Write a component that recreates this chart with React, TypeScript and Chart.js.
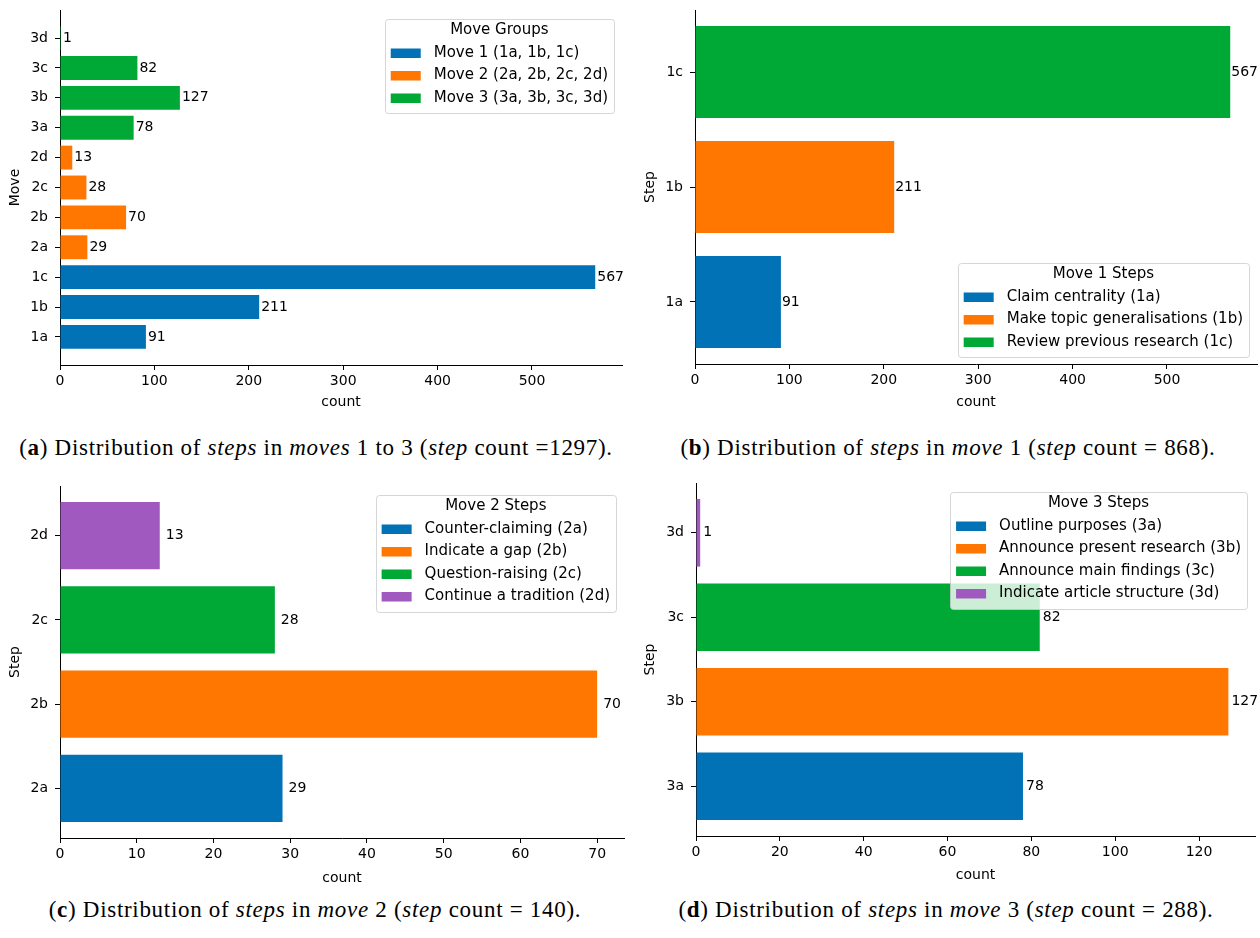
import React, { useEffect, useRef } from 'react';
import { Chart, registerables } from 'chart.js';

Chart.register(...registerables);

// ---------- data ----------
const BLUE = '#0072b5';
const ORANGE = '#ff7600';
const GREEN = '#00a835';
const PURPLE = '#a05abf';

const movesA = ['1a', '1b', '1c', '2a', '2b', '2c', '2d', '3a', '3b', '3c', '3d'];
const countsA = [91, 211, 567, 29, 70, 28, 13, 78, 127, 82, 1];
const groupOfA = [0, 0, 0, 1, 1, 1, 1, 2, 2, 2, 2];
const groupLabelsA = ['Move 1 (1a, 1b, 1c)', 'Move 2 (2a, 2b, 2c, 2d)', 'Move 3 (3a, 3b, 3c, 3d)'];
const groupColorsA = [BLUE, ORANGE, GREEN];
const xTicksA = [0, 100, 200, 300, 400, 500];

const stepsB = ['1a', '1b', '1c'];
const countsB = [91, 211, 567];
const labelsB = ['Claim centrality (1a)', 'Make topic generalisations (1b)', 'Review previous research (1c)'];
const colorsB = [BLUE, ORANGE, GREEN];
const xTicksB = [0, 100, 200, 300, 400, 500];

const stepsC = ['2a', '2b', '2c', '2d'];
const countsC = [29, 70, 28, 13];
const labelsC = ['Counter-claiming (2a)', 'Indicate a gap (2b)', 'Question-raising (2c)', 'Continue a tradition (2d)'];
const colorsC = [BLUE, ORANGE, GREEN, PURPLE];
const xTicksC = [0, 10, 20, 30, 40, 50, 60, 70];

const stepsD = ['3a', '3b', '3c', '3d'];
const countsD = [78, 127, 82, 1];
const labelsD = ['Outline purposes (3a)', 'Announce present research (3b)', 'Announce main findings (3c)', 'Indicate article structure (3d)'];
const colorsD = [BLUE, ORANGE, GREEN, PURPLE];
const xTicksD = [0, 20, 40, 60, 80, 100, 120];

// ---------- style ----------
const FONT = "'DejaVu Sans', sans-serif";
const FS = 14;
const LFS = 15;
const LH = FS * 1.2;

type Panel = {
  left: number; top: number; width: number; height: number;
  area: { l: number; t: number; r: number; b: number };
  cats: string[]; values: number[]; groups: number[];
  groupLabels: string[]; groupColors: string[];
  legendTitle: string; legendLoc: 'upper right' | 'lower right';
  xTicks: number[]; yTitle: string;
  yTitleX: number; xTitleY: number; labelPad: number;
};

const panels: Panel[] = [
  {
    left: 0, top: 0, width: 630, height: 420,
    area: { l: 60, t: 10, r: 622, b: 365 },
    cats: movesA, values: countsA, groups: groupOfA,
    groupLabels: groupLabelsA, groupColors: groupColorsA,
    legendTitle: 'Move Groups', legendLoc: 'upper right',
    xTicks: xTicksA, yTitle: 'Move', yTitleX: 15, xTitleY: 402, labelPad: 2,
  },
  {
    left: 630, top: 0, width: 630, height: 420,
    area: { l: 65, t: 10, r: 627, b: 364 },
    cats: stepsB, values: countsB, groups: [0, 1, 2],
    groupLabels: labelsB, groupColors: colorsB,
    legendTitle: 'Move 1 Steps', legendLoc: 'lower right',
    xTicks: xTicksB, yTitle: 'Step', yTitleX: 20, xTitleY: 402, labelPad: 1,
  },
  {
    left: 0, top: 470, width: 630, height: 420,
    area: { l: 60, t: 16, r: 624, b: 368 },
    cats: stepsC, values: countsC, groups: [0, 1, 2, 3],
    groupLabels: labelsC, groupColors: colorsC,
    legendTitle: 'Move 2 Steps', legendLoc: 'upper right',
    xTicks: xTicksC, yTitle: 'Step', yTitleX: 15, xTitleY: 408, labelPad: 6,
  },
  {
    left: 630, top: 470, width: 630, height: 420,
    area: { l: 66, t: 13, r: 625, b: 366 },
    cats: stepsD, values: countsD, groups: [0, 1, 2, 3],
    groupLabels: labelsD, groupColors: colorsD,
    legendTitle: 'Move 3 Steps', legendLoc: 'upper right',
    xTicks: xTicksD, yTitle: 'Step', yTitleX: 20, xTitleY: 405, labelPad: 3,
  },
];

function roundRect(ctx: CanvasRenderingContext2D, x: number, y: number, w: number, h: number, r: number) {
  ctx.beginPath();
  ctx.moveTo(x + r, y);
  ctx.lineTo(x + w - r, y);
  ctx.arcTo(x + w, y, x + w, y + r, r);
  ctx.lineTo(x + w, y + h - r);
  ctx.arcTo(x + w, y + h, x + w - r, y + h, r);
  ctx.lineTo(x + r, y + h);
  ctx.arcTo(x, y + h, x, y + h - r, r);
  ctx.lineTo(x, y + r);
  ctx.arcTo(x, y, x + r, y, r);
  ctx.closePath();
}

function makePlugins(p: Panel) {
  const valueLabels = {
    id: 'valueLabels',
    afterDatasetsDraw(chart: any) {
      const ctx: CanvasRenderingContext2D = chart.ctx;
      ctx.save();
      ctx.font = `${FS}px ${FONT}`;
      ctx.fillStyle = '#000';
      ctx.textAlign = 'left';
      ctx.textBaseline = 'middle';
      chart.data.datasets.forEach((ds: any, di: number) => {
        const meta = chart.getDatasetMeta(di);
        meta.data.forEach((el: any, i: number) => {
          const v = ds.data[i].x;
          ctx.fillText(String(v), el.x + p.labelPad, el.y);
        });
      });
      ctx.restore();
    },
  };
  const legend = {
    id: 'mplLegend',
    afterDraw(chart: any) {
      const ctx: CanvasRenderingContext2D = chart.ctx;
      const ca = chart.chartArea;
      ctx.save();
      ctx.font = `${LFS}px ${FONT}`;
      const textW = Math.max(...p.groupLabels.map((l) => ctx.measureText(l).width));
      const titleW = ctx.measureText(p.legendTitle).width;
      const w = Math.max(49 + textW + 6, titleW + 12);
      const n = p.groupLabels.length;
      const h = 11.5 + 22.5 * n + 15;
      const x = ca.right - 8 - w;
      const y = p.legendLoc === 'upper right' ? ca.top + 9 : ca.bottom - 7 - h;
      roundRect(ctx, Math.round(x) + 0.5, Math.round(y) + 0.5, Math.round(w), Math.round(h), 3);
      ctx.fillStyle = 'rgba(255,255,255,0.8)';
      ctx.fill();
      ctx.strokeStyle = 'rgba(204,204,204,0.8)';
      ctx.lineWidth = 1;
      ctx.stroke();
      ctx.fillStyle = '#000';
      ctx.textBaseline = 'middle';
      ctx.textAlign = 'center';
      ctx.fillText(p.legendTitle, x + w / 2, y + 11.5);
      ctx.textAlign = 'left';
      p.groupLabels.forEach((lab, i) => {
        const cy = y + 11.5 + 22.5 * (i + 1);
        ctx.fillStyle = p.groupColors[i];
        ctx.fillRect(x + 6, cy - 4.5, 30, 9.5);
        ctx.fillStyle = '#000';
        ctx.fillText(lab, x + 49, cy);
      });
      ctx.restore();
    },
  };
  return [valueLabels, legend];
}

function buildConfig(p: Panel): any {
  const n = p.cats.length;
  const span = n - 1 + 0.8;
  const yMin = -0.4 - 0.05 * span;
  const yMax = n - 1 + 0.4 + 0.05 * span;
  const xMax = Math.max(...p.values) * 1.05;
  const xAxisH = 55;
  const scaleBottom = p.area.b + xAxisH;
  const datasets = p.groupLabels.map((lab, g) => ({
    label: lab,
    data: p.cats
      .map((c, i) => (p.groups[i] === g ? { x: p.values[i], y: i } : null))
      .filter((d) => d !== null),
    backgroundColor: p.groupColors[g],
    borderWidth: 0,
    grouped: false,
    barPercentage: 0.8,
    categoryPercentage: 1,
  }));
  const font = { family: FONT, size: FS, lineHeight: 1.2 };
  return {
    type: 'bar',
    data: { datasets },
    options: {
      indexAxis: 'y',
      animation: false,
      responsive: false,
      maintainAspectRatio: false,
      events: [],
      layout: {
        padding: { left: 0, top: p.area.t, right: p.width - p.area.r, bottom: p.height - scaleBottom },
      },
      plugins: { legend: { display: false }, tooltip: { enabled: false } },
      scales: {
        x: {
          type: 'linear',
          position: 'bottom',
          offset: false,
          min: 0,
          max: xMax,
          afterBuildTicks: (s: any) => { s.ticks = p.xTicks.map((v) => ({ value: v })); },
          afterFit: (s: any) => {
            s.height = xAxisH;
            s.paddingLeft = 0; s.paddingRight = 0; s.paddingTop = 0; s.paddingBottom = 0;
          },
          grid: { offset: false, drawOnChartArea: false, drawTicks: true, tickLength: 5, color: '#000', tickWidth: 1 },
          border: { display: true, color: '#000', width: 1 },
          ticks: { color: '#000', font, padding: 3, maxRotation: 0, autoSkip: false },
          title: {
            display: true, text: 'count', color: '#000', font,
            padding: { top: 0, bottom: scaleBottom - p.xTitleY - LH / 2 },
          },
        },
        y: {
          type: 'linear',
          position: 'left',
          offset: false,
          min: yMin,
          max: yMax,
          afterBuildTicks: (s: any) => { s.ticks = p.cats.map((_, i) => ({ value: i })); },
          afterFit: (s: any) => {
            s.width = p.area.l;
            s.paddingLeft = 0; s.paddingRight = 0; s.paddingTop = 0; s.paddingBottom = 0;
          },
          grid: { offset: false, drawOnChartArea: false, drawTicks: true, tickLength: 5, color: '#000', tickWidth: 1 },
          border: { display: true, color: '#000', width: 1 },
          ticks: {
            color: '#000', font, padding: 7, autoSkip: false,
            callback: (v: any) => p.cats[Math.round(v)] ?? '',
          },
          title: {
            display: true, text: p.yTitle, color: '#000', font,
            padding: { top: p.yTitleX - LH / 2, bottom: 0 },
          },
        },
      },
    },
    plugins: makePlugins(p),
  };
}

function ChartPanel({ p }: { p: Panel }) {
  const ref = useRef<HTMLCanvasElement | null>(null);
  useEffect(() => {
    if (!ref.current) return;
    const chart = new Chart(ref.current, buildConfig(p));
    return () => chart.destroy();
  }, [p]);
  return (
    <canvas
      ref={ref}
      width={p.width}
      height={p.height}
      style={{ position: 'absolute', left: p.left, top: p.top, width: p.width, height: p.height }}
    />
  );
}

const captionStyle = (cx: number, cy: number): React.CSSProperties => ({
  position: 'absolute',
  left: cx - 315,
  width: 630,
  top: cy - 12,
  height: 24,
  lineHeight: '24px',
  textAlign: 'center',
  fontFamily: "'Liberation Serif', 'DejaVu Serif', serif",
  fontSize: 23,
  letterSpacing: '0.7px',
  color: '#000',
  whiteSpace: 'nowrap',
});

export default function App() {
  return (
    <div style={{ position: 'absolute', left: 0, top: 0, width: 1260, height: 938, background: '#fff', overflow: 'hidden' }}>
      {panels.map((p, i) => (
        <ChartPanel key={i} p={p} />
      ))}
      <div style={captionStyle(316, 448)}>
        (<b>a</b>) Distribution of <i>steps</i> in <i>moves</i> 1 to 3 (<i>step</i> count =1297).
      </div>
      <div style={captionStyle(948, 448)}>
        (<b>b</b>) Distribution of <i>steps</i> in <i>move</i> 1 (<i>step</i> count = 868).
      </div>
      <div style={captionStyle(315, 910)}>
        (<b>c</b>) Distribution of <i>steps</i> in <i>move</i> 2 (<i>step</i> count = 140).
      </div>
      <div style={captionStyle(946, 910)}>
        (<b>d</b>) Distribution of <i>steps</i> in <i>move</i> 3 (<i>step</i> count = 288).
      </div>
    </div>
  );
}
